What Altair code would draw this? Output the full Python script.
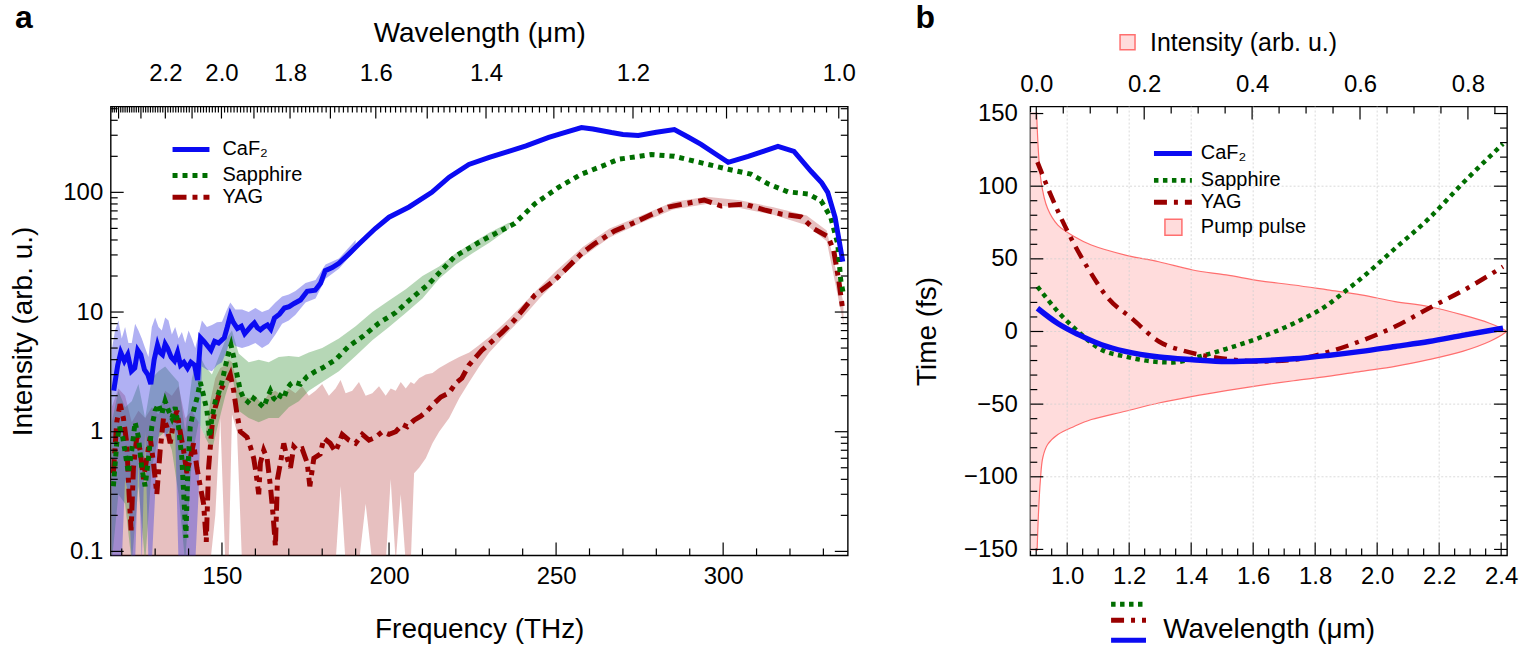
import altair as alt
import pandas as pd

FONT = "Liberation Sans"

# ---------------- (a) white-light spectra vs frequency (THz) ----------------
caf2_f = [117.6, 118.8, 119.7, 120.8, 121.8, 122.9, 123.9, 124.8, 125.7, 126.8,
          127.8, 128.7, 129.7, 130.7, 131.4, 132.2, 133.0, 133.7, 134.8, 135.8,
          136.7, 137.6, 138.6, 139.7, 140.7, 141.8, 142.7, 143.6, 144.6, 145.7,
          146.7, 147.8, 149.0, 150.7, 151.6, 152.5, 153.4, 154.6, 155.8, 156.8,
          157.6, 158.7, 159.7, 160.6, 161.5, 162.5, 163.6, 164.6, 165.7, 167.2,
          168.7, 170.1, 171.6, 173.5, 175.5, 177.9, 179.5, 180.9, 183.0, 185.0,
          188.1, 191.0, 195.8, 200.0, 206.0, 212.8, 218.0, 223.9, 230.0, 235.8,
          241.0, 247.8, 252.0, 257.6, 261.0, 266.6, 270.0, 274.6, 280.0, 285.4,
          289.5, 293.4, 297.5, 301.5, 304.5, 307.5, 312.0, 316.4, 321.2, 326.3,
          329.5, 331.3, 333.5, 335.8]
caf2_i = [2.2, 3.6, 4.6, 3.9, 4.4, 3.2, 3.4, 4.8, 4.4, 3.3,
          3.0, 2.5, 4.0, 5.3, 4.6, 4.4, 5.4, 5.0, 4.2, 3.9,
          4.6, 3.6, 3.8, 3.4, 3.8, 3.6, 2.7, 6.1, 5.7, 5.2,
          4.8, 5.7, 5.5, 6.1, 7.5, 9.4, 8.2, 7.3, 7.6, 6.6,
          7.0, 7.6, 8.1, 7.4, 7.1, 7.5, 7.8, 7.2, 8.9, 9.6,
          10.8, 11.1, 11.8, 12.6, 14.9, 15.2, 17.4, 22.2, 23.5, 25.5,
          30.8, 37.0, 49.6, 62.0, 75.5, 100, 134, 171, 196, 220,
          245, 288, 313, 348, 338, 316, 305, 299, 318, 335,
          290, 252, 211, 178, 189, 200, 220, 242, 220, 150,
          120, 100, 62, 26.4]

sapph_f = [117.5, 118.5, 119.3, 120.3, 121.3, 122.0, 123.0, 124.0, 125.0, 126.0,
           127.0, 128.0, 129.0, 130.0, 131.0, 132.0, 133.0, 134.0, 135.0, 136.0,
           137.0, 138.0, 138.7, 139.2, 139.8, 140.5, 141.5, 142.5, 143.5, 144.5,
           145.5, 146.3, 147.0, 148.0, 149.0, 150.0, 151.0, 152.0, 152.7, 153.5,
           154.5, 155.5, 156.5, 157.5, 158.5, 159.5, 160.5, 161.5, 162.5, 163.5,
           164.5, 165.5, 166.5, 167.5, 168.5, 169.5, 170.5, 171.5, 173.5, 175.5,
           178.0, 180.0, 184.0, 188.0, 192.0, 197.0, 202.0, 206.0, 212.0, 219.7,
           227.8, 237.6, 243.6, 250.7, 257.6, 263.6, 268.7, 278.5, 285.4, 295.5,
           301.5, 308.3, 313.4, 319.4, 325.4, 329.3, 332.2, 334.3, 335.2, 336.1]
sapph_i = [0.35, 0.8, 1.1, 0.9, 0.6, 0.45, 0.7, 1.2, 0.9, 0.5,
           0.35, 0.6, 1.1, 1.5, 1.7, 1.4, 1.8, 1.5, 1.3, 1.6,
           1.1, 0.6, 0.25, 0.13, 0.5, 1.1, 1.5, 1.9, 2.6, 2.0,
           1.5, 0.9, 1.3, 1.8, 2.1, 2.6, 3.5, 4.6, 5.3, 4.2,
           3.0, 2.2, 1.9, 1.8, 1.7, 1.9, 1.8, 1.7, 1.6, 1.9,
           2.2, 1.9, 1.8, 2.0, 1.9, 2.3, 2.5, 2.6, 2.5, 2.9,
           3.2, 3.4, 4.0, 5.2, 6.2, 8.1, 9.9, 12.5, 17.3, 29.2,
           39.5, 55, 80, 110, 142, 165, 189, 207, 200, 171,
           156, 142, 118, 101, 97, 85, 62, 37, 18.4, 13.6]

yag_f = [117.5, 118.5, 119.5, 120.5, 121.5, 122.2, 122.8, 123.5, 124.5, 125.5,
         126.5, 127.5, 128.5, 129.5, 130.5, 131.5, 132.5, 133.5, 134.5, 135.5,
         136.5, 137.5, 138.5, 139.5, 140.5, 141.5, 142.5, 143.5, 144.5, 145.3,
         146.0, 147.0, 148.0, 149.0, 150.2, 151.5, 152.5, 153.5, 154.5, 155.5,
         156.5, 157.5, 158.5, 159.5, 160.2, 161.0, 161.5, 162.5, 163.5, 164.5,
         165.3, 166.0, 166.6, 167.5, 168.5, 169.5, 170.5, 171.5, 172.5, 174.0,
         175.5, 176.3, 177.5, 179.4, 180.5, 182.4, 184.0, 186.0, 188.0, 190.0,
         192.0, 194.0, 196.0, 198.0, 200.0, 202.0, 204.0, 205.5, 207.5, 209.5,
         211.5, 213.7, 215.5, 217.9, 220.0, 221.8, 223.9, 227.8, 233.7, 237.6,
         243.6, 249.6, 251.6, 257.6, 261.5, 267.5, 272.5, 277.6, 283.5, 288.3,
         294.3, 299.4, 306.3, 312.3, 317.3, 323.3, 327.2, 331.4, 333.1, 334.6,
         335.8]
yag_i = [0.45, 1.2, 1.7, 1.3, 0.8, 0.3, 0.15, 0.5, 0.9, 0.7,
         0.4, 0.6, 0.9, 0.55, 0.3, 0.7, 1.3, 1.1, 0.8, 1.2,
         1.5, 1.0, 0.7, 0.45, 0.6, 0.8, 0.5, 0.35, 0.25, 0.12,
         0.5, 1.1, 1.6, 2.0, 2.4, 2.6, 3.0, 2.2, 1.4, 1.0,
         0.95, 0.9, 0.75, 0.6, 0.45, 0.3, 0.55, 0.7, 0.6, 0.35,
         0.2, 0.11, 0.4, 0.55, 0.8, 0.6, 0.5, 0.75, 0.7, 0.72,
         0.55, 0.35, 0.6, 0.65, 0.88, 0.8, 0.68, 0.95, 0.85, 0.8,
         0.95, 0.85, 0.9, 1.0, 0.95, 1.0, 1.15, 1.1, 1.25, 1.35,
         1.5, 1.75, 1.95, 2.1, 2.55, 2.8, 3.6, 4.8, 6.7, 8.6,
         13.8, 18.5, 21.0, 30.8, 37.2, 47.6, 54.5, 63.5, 75.3, 80.1,
         86.3, 76.9, 80.0, 71.3, 66.0, 62.5, 49.6, 42.6, 32.6, 18.4,
         10.4]

# shot-to-shot spread (lower / upper envelope) of each spectrum
caf2_band_f = [117, 118, 119, 120, 121, 122, 123, 124, 125, 126,
               127, 128, 129, 130, 131, 132, 133, 134, 135, 136,
               137, 138, 139, 140, 141, 142, 143, 144, 145.5, 147,
               148.5, 150, 151.5, 152.5, 154, 156, 158, 160, 162, 164,
               166, 168, 170, 172, 175, 178, 181, 185, 190]
caf2_band_lo = [0.08, 0.08, 0.08, 0.08, 0.4, 0.3, 0.08, 0.08, 0.6, 0.08,
                1.0, 0.08, 0.08, 0.3, 0.9, 1.2, 0.9, 1.0, 1.1, 1.0,
                0.08, 0.08, 0.08, 0.08, 0.08, 0.08, 0.3, 3.5, 3.3, 3.2,
                3.6, 3.8, 4.8, 6.0, 5.2, 5.0, 5.2, 5.5, 5.0, 5.4,
                6.5, 8.0, 8.5, 9.5, 12, 13, 19, 23, 33]
caf2_band_hi = [4.8, 7.0, 8.5, 6.0, 7.5, 5.5, 5.5, 8.0, 7.0, 6.0,
                5.0, 4.2, 7.5, 9.0, 7.5, 7.0, 9.0, 8.5, 6.5, 7.5,
                6.0, 6.8, 5.5, 7.0, 6.0, 5.0, 6.5, 8.5, 7.5, 7.8,
                8.2, 8.3, 10.5, 12.0, 10.5, 10.5, 10.0, 10.8, 10.0, 10.5,
                12, 13.5, 14, 15, 17.5, 18.5, 25, 28, 40]

sapph_band_f = [117, 119, 121, 123, 125, 127, 129, 131, 133, 135,
                137, 139, 141, 143, 145, 147, 149, 151, 153, 155,
                158, 161, 164, 167, 170, 173, 176, 180, 185, 190,
                195, 200, 205, 210, 215, 220, 225, 230, 236]
sapph_band_lo = [0.08, 0.3, 0.25, 0.08, 0.35, 0.08, 0.5, 0.9, 1.0, 0.7,
                 0.3, 0.08, 0.6, 1.2, 0.9, 0.7, 1.2, 2.0, 3.0, 1.5,
                 1.3, 1.2, 1.3, 1.3, 1.6, 1.8, 2.2, 2.6, 3.2, 4.3,
                 5.8, 7.5, 9.8, 13, 19, 25, 31, 38, 50]
sapph_band_hi = [1.2, 2.2, 1.6, 1.8, 2.5, 1.3, 2.8, 3.2, 3.5, 3.0,
                 2.6, 1.0, 2.8, 4.5, 3.5, 3.0, 4.2, 5.8, 7.0, 4.5,
                 3.8, 4.0, 3.8, 4.2, 4.3, 4.2, 4.6, 5.0, 6.0, 7.6,
                 10.0, 12.5, 15.5, 20, 24, 31, 38, 46, 56]

yag_band_f = [117, 119, 121, 123, 125, 127, 129, 131, 133, 135,
              137, 139, 141, 143, 145, 146.5, 148, 149.5, 151, 152,
              153, 154.5, 156, 158, 160, 162, 164, 166, 168, 170,
              172, 174, 176, 178, 180, 182, 184, 185.5, 187, 189,
              191, 193, 195, 197, 199, 200.5, 202, 203.5, 205, 206.5,
              207.5, 209, 211, 213, 215, 218, 221, 224, 227, 230,
              235, 240, 245, 250, 258, 266, 275, 285, 295, 305,
              315, 325, 331, 336]
yag_band_lo = [0.08, 0.08, 0.08, 0.08, 0.08, 0.08, 0.08, 0.08, 0.08, 0.08,
               0.08, 0.08, 0.08, 0.08, 0.08, 0.08, 0.2, 1.3, 0.08, 0.08,
               1.4, 1.0, 0.08, 0.08, 0.08, 0.08, 0.08, 0.08, 0.08, 0.08,
               0.08, 0.08, 0.08, 0.08, 0.08, 0.08, 0.08, 0.35, 0.08, 0.08,
               0.08, 0.25, 0.08, 0.08, 0.08, 0.4, 0.08, 0.3, 0.08, 0.08,
               0.45, 0.5, 0.6, 0.8, 1.0, 1.3, 1.9, 2.6, 3.5, 4.6,
               6.5, 9.0, 13, 18, 29, 42, 55, 72, 80, 74,
               65, 53, 39, 8]
yag_band_hi = [1.6, 2.3, 2.0, 1.2, 1.5, 1.3, 1.6, 1.4, 2.2, 2.0,
               2.4, 1.3, 1.5, 1.2, 0.9, 1.8, 2.8, 3.4, 3.6, 4.0,
               3.8, 2.6, 2.0, 1.9, 2.0, 1.7, 2.1, 2.2, 2.0, 2.3,
               2.1, 2.4, 2.0, 2.2, 2.5, 2.0, 2.3, 2.7, 2.1, 2.2,
               2.6, 2.0, 2.1, 2.4, 2.0, 2.3, 2.2, 2.6, 2.3, 2.6,
               2.5, 2.8, 3.0, 3.1, 3.4, 3.8, 4.2, 4.6, 5.3, 6.2,
               8.3, 11.5, 16, 22, 35, 50, 63, 83, 92, 86,
               75, 64, 48, 12]

# ---------------- (b) group delay (fs) vs wavelength (um) ----------------
wl_caf2 = [0.904, 0.970, 1.035, 1.111, 1.187, 1.296, 1.405, 1.514, 1.623, 1.732,
           1.840, 1.949, 2.058, 2.167, 2.275, 2.406]
t_caf2 = [16.0, 5.5, -2.0, -9.1, -13.7, -17.6, -19.4, -20.6, -20.1, -18.8,
          -16.5, -13.7, -10.3, -6.9, -2.7, 2.3]
wl_sapph = [0.904, 0.970, 1.035, 1.111, 1.187, 1.274, 1.340, 1.427, 1.514, 1.623,
            1.732, 1.840, 1.895, 1.949, 2.058, 2.167, 2.275, 2.406]
t_sapph = [30.9, 13.7, 0.0, -12.6, -17.2, -20.6, -21.3, -17.2, -11.9, -4.1,
           5.7, 18.3, 27.4, 36.6, 57.2, 77.8, 101.8, 129.2]
wl_yag = [0.904, 0.948, 1.002, 1.067, 1.132, 1.208, 1.296, 1.383, 1.459, 1.535,
          1.623, 1.732, 1.840, 1.949, 2.058, 2.167, 2.275, 2.406]
t_yag = [116.6, 93.5, 68.6, 43.5, 22.9, 9.1, -6.9, -13.7, -17.2, -19.4,
         -20.6, -19.4, -14.2, -6.4, 3.4, 16.0, 27.9, 44.6]

# pump pulse intensity profile (arb. u.) vs time (fs)
pump_t = [-151, -125.8, -102.9, -86.9, -77.8, -70.9, -65.2, -60.6, -54.9, -49.2,
          -44.6, -40.7, -37.1, -33.9, -30.9, -27.4, -24.0, -19.4, -13.7, -6.9,
          -1.1, 0.0, 1.1, 5.7, 11.4, 17.2, 20.6, 25.2, 28.6, 32.0,
          34.8, 38.9, 42.3, 48.0, 52.6, 59.5, 65.2, 73.2, 84.6, 103.0, 151]
pump_i = [0.0015, 0.004, 0.0075, 0.012, 0.021, 0.040, 0.071, 0.102, 0.165, 0.227,
          0.29, 0.352, 0.415, 0.477, 0.54, 0.602, 0.665, 0.727, 0.79, 0.84,
          0.868, 0.871, 0.868, 0.84, 0.79, 0.727, 0.665, 0.602, 0.54, 0.477,
          0.415, 0.352, 0.29, 0.227, 0.165, 0.102, 0.071, 0.040, 0.021, 0.009, 0.0006]

# ---------------- tick positions ----------------
freq_major = [150, 200, 250, 300]
freq_minor = [120, 130, 140, 160, 170, 180, 190, 210, 220, 230, 240,
              260, 270, 280, 290, 310, 320, 330]
int_major = [0.1, 1, 10, 100]
int_minor = [0.2, 0.3, 0.4, 0.5, 0.6, 0.7, 0.8, 0.9, 2, 3, 4, 5, 6, 7, 8, 9,
             20, 30, 40, 50, 60, 70, 80, 90, 200, 300, 400, 500]
wl_top_labels = [2.2, 2.0, 1.8, 1.6, 1.4, 1.2, 1.0]
wl_top_major = [round(1.0 + 0.1 * k, 1) for k in range(15)]
wl_top_minor = [k / 100 for k in range(101, 244) if k % 10]
time_major = [-150, -100, -50, 0, 50, 100, 150]
time_minor = [k for k in range(-150, 151, 10) if k % 50]
wlb_major = [1.0, 1.2, 1.4, 1.6, 1.8, 2.0, 2.2, 2.4]
wlb_minor = [k / 100 for k in range(90, 242, 5) if k % 20]
ib_major = [0.0, 0.2, 0.4, 0.6, 0.8]
ib_minor = [k / 100 for k in range(0, 88, 5) if k % 20]

BLUE, GREEN, RED = "#0b0bf2", "#006e00", "#990000"
PINK_FILL, PINK_LINE = "#ffdcdc", "#ff6f6f"

W_A, H_A = 739, 450
W_B, H_B = 478, 450
FREQ_DOM = [116.7, 337.3]
INV_DOM = [0.4103, 1.0073]      # top axis of (a): inverse wavelength, 1/um
INT_DOM = [0.0926, 521]
WL_DOM = [0.881, 2.419]
IB_DOM = [-0.0111, 0.8725]      # top axis of (b): pump intensity
T_DOM = [-154.1, 154.8]

# the secondary (top) axes share the bottom scale through a linear map
K_A = (FREQ_DOM[1] - FREQ_DOM[0]) / (INV_DOM[1] - INV_DOM[0])
K_B = (WL_DOM[1] - WL_DOM[0]) / (IB_DOM[1] - IB_DOM[0])


def wl_to_freq_axis(wl):
    return FREQ_DOM[0] + (1.0 / wl - INV_DOM[0]) * K_A


def intensity_to_wl_axis(v):
    return WL_DOM[0] + (v - IB_DOM[0]) * K_B


LABEL_WL_TOP = f"format(1 / ({INV_DOM[0]} + (datum.value - {FREQ_DOM[0]}) / {K_A}) + 1e-9, '.1f')"
LABEL_IB_TOP = f"format({IB_DOM[0]} + (datum.value - {WL_DOM[0]}) / {K_B} + 1e-9, '.1f')"

LABEL_SIZE, TITLE_SIZE, KEY_SIZE = 24, 28, 20


def col(values, name="v"):
    return pd.DataFrame({name: values})


def xq(field, domain, axis=None):
    return alt.X(f"{field}:Q", scale=alt.Scale(domain=domain, nice=False, zero=False), axis=axis)


AX_INT = alt.Axis(values=int_major, format="~g", title="Intensity (arb. u.)",
                  ticks=False, domain=False, grid=False, labelPadding=8, titlePadding=25)
AX_TIME = alt.Axis(values=time_major, labelExpr="replace(format(datum.value, 'd'), '-', '\u2212')",
                   title="Time (fs)", ticks=False, domain=False, grid=False,
                   labelPadding=13, titlePadding=22)


def ya(field):
    return alt.Y(f"{field}:Q", scale=alt.Scale(type="log", domain=INT_DOM, nice=False), axis=AX_INT)


def yb(field):
    return alt.Y(f"{field}:Q", scale=alt.Scale(domain=T_DOM, nice=False, zero=False), axis=AX_TIME)


def side_ticks(vals, yenc, length, width):
    left = alt.Chart(col(vals)).mark_rule(color="black", strokeWidth=1.2).encode(
        y=yenc, x=alt.value(0), x2=alt.value(length))
    right = alt.Chart(col(vals)).mark_rule(color="black", strokeWidth=1.2).encode(
        y=yenc, x=alt.value(width), x2=alt.value(width - length))
    return [left, right]


def bottom_ticks(vals, xenc, length, height):
    return alt.Chart(col(vals)).mark_rule(color="black", strokeWidth=1.2).encode(
        x=xenc, y=alt.value(height), y2=alt.value(height - length))


def top_ticks(vals, xenc, length):
    return alt.Chart(col(vals)).mark_rule(color="black", strokeWidth=1.2).encode(
        x=xenc, y=alt.value(0), y2=alt.value(length))


def key_line(color, width, x0, x1, y, dash=None):
    style = dict(color=color, strokeWidth=width, strokeCap="butt")
    if dash:
        style["strokeDash"] = dash
    return alt.Chart(col([0])).mark_rule(**style).encode(
        x=alt.value(x0), x2=alt.value(x1), y=alt.value(y))


def legend_entry(text, color, width, x0, x1, xt, y, dash=None):
    line = key_line(color, width, x0, x1, y, dash)
    label_mark = alt.Chart(col([text], "s")).mark_text(
        align="left", baseline="middle", fontSize=KEY_SIZE).encode(
        text="s:N", x=alt.value(xt), y=alt.value(y))
    return [line, label_mark]


def label(txt, x, y, size, weight="normal", align="left"):
    return alt.Chart(col([txt], "s")).mark_text(
        align=align, baseline="alphabetic", fontSize=size, fontWeight=weight).encode(
        text="s:N", x=alt.value(x), y=alt.value(y))


# ---------------- panel (a) ----------------
DASH_SAPPH_A = [5, 5]
DASH_YAG_A = [14, 6, 5, 6]


def band(f, lo, hi, color, op):
    d = pd.DataFrame({"f": f, "lo": lo, "hi": hi})
    return alt.Chart(d).mark_area(color=color, opacity=op, clip=True).encode(
        x=xq("f", FREQ_DOM), y=ya("lo"), y2="hi:Q")


def spectrum(f, i, color, dash=None):
    d = pd.DataFrame({"f": f, "i": i})
    style = dict(color=color, strokeWidth=5, clip=True, strokeCap="butt")
    if dash:
        style["strokeDash"] = dash
    return alt.Chart(d).mark_line(**style).encode(x=xq("f", FREQ_DOM), y=ya("i"))


AX_FREQ = alt.Axis(values=freq_major, format="d", title="Frequency (THz)", ticks=False,
                   domain=False, grid=False, labelPadding=9, titlePadding=27)
AX_WL_TOP = alt.Axis(orient="top", values=[wl_to_freq_axis(w) for w in wl_top_labels],
                     labelExpr=LABEL_WL_TOP, title="Wavelength (\u03bcm)", ticks=False,
                     domain=False, grid=False, labelPadding=21, titlePadding=14)

layers_a = [
    band(yag_band_f, yag_band_lo, yag_band_hi, "#b03030", 0.3),
    band(sapph_band_f, sapph_band_lo, sapph_band_hi, "#2e8b2e", 0.35),
    band(caf2_band_f, caf2_band_lo, caf2_band_hi, "#3a3ae0", 0.4),
    spectrum(yag_f, yag_i, RED, DASH_YAG_A),
    spectrum(sapph_f, sapph_i, GREEN, DASH_SAPPH_A),
    spectrum(caf2_f, caf2_i, BLUE),
    bottom_ticks(freq_major, xq("v", FREQ_DOM, AX_FREQ), 13, H_A),
    bottom_ticks(freq_minor, xq("v", FREQ_DOM), 7, H_A),
    top_ticks([wl_to_freq_axis(w) for w in wl_top_major], xq("v", FREQ_DOM, AX_WL_TOP), 12),
    top_ticks([wl_to_freq_axis(w) for w in wl_top_minor], xq("v", FREQ_DOM), 6),
]
layers_a += side_ticks(int_major, ya("v"), 13, W_A)
layers_a += side_ticks(int_minor, ya("v"), 7, W_A)
layers_a += legend_entry("CaF\u2082", BLUE, 5, 62, 99, 112, 43)
layers_a += legend_entry("Sapphire", GREEN, 5, 62, 99, 112, 69, DASH_SAPPH_A)
layers_a += legend_entry("YAG", RED, 5, 62, 99, 112, 91, DASH_YAG_A)
layers_a.append(label("a", -96, -79, 32, "bold"))

panel_a = alt.layer(*layers_a).properties(width=W_A, height=H_A).resolve_axis(x="independent")

# ---------------- panel (b) ----------------
DASH_SAPPH_B = [4.5, 4.5]
DASH_YAG_B = [13, 7, 4, 7]

AX_WLB = alt.Axis(values=wlb_major, format=".1f", title="Wavelength (\u03bcm)", ticks=False,
                  domain=False, grid=False, labelPadding=9, titlePadding=27)
AX_IB = alt.Axis(orient="top", values=[intensity_to_wl_axis(v) for v in ib_major],
                 labelExpr=LABEL_IB_TOP, title=None, ticks=False, domain=False, grid=False,
                 labelPadding=10)

pump = pd.DataFrame({"t": pump_t, "i": pump_i})
pump["x"] = [intensity_to_wl_axis(v) for v in pump_i]
pump["x0"] = WL_DOM[0]
pump_area = alt.Chart(pump).mark_area(orient="horizontal", color=PINK_FILL, clip=True,
                                      interpolate="monotone").encode(
    y=yb("t"), x=xq("x", WL_DOM), x2="x0:Q")
pump_edge = alt.Chart(pump).mark_line(color=PINK_LINE, strokeWidth=1.2, clip=True,
                                      interpolate="catmull-rom").encode(
    y=yb("t"), x=xq("x", WL_DOM), order="t:Q")


def delay(wl, t, color, width, dash=None):
    d = pd.DataFrame({"wl": wl, "t": t})
    style = dict(color=color, strokeWidth=width, interpolate="monotone", strokeCap="butt")
    if dash:
        style["strokeDash"] = dash
    return alt.Chart(d).mark_line(**style).encode(x=xq("wl", WL_DOM), y=yb("t"))


grid_v = alt.Chart(col(wlb_major[:-1])).mark_rule(color="#d0d0d0", strokeWidth=0.8, strokeDash=[2, 2]).encode(
    x=xq("v", WL_DOM), y=alt.value(0), y2=alt.value(H_B))
grid_h = alt.Chart(col(time_major[1:-1])).mark_rule(color="#d0d0d0", strokeWidth=0.8, strokeDash=[2, 2]).encode(
    y=yb("v"), x=alt.value(0), x2=alt.value(W_B))

layers_b = [
    pump_area, pump_edge, grid_v, grid_h,
    delay(wl_sapph, t_sapph, GREEN, 4.5, DASH_SAPPH_B),
    delay(wl_yag, t_yag, RED, 4.5, DASH_YAG_B),
    delay(wl_caf2, t_caf2, BLUE, 5.5),
    bottom_ticks(wlb_major, xq("v", WL_DOM, AX_WLB), 13, H_B),
    bottom_ticks(wlb_minor, xq("v", WL_DOM), 7, H_B),
    top_ticks([intensity_to_wl_axis(v) for v in ib_major], xq("v", WL_DOM, AX_IB), 13),
    top_ticks([intensity_to_wl_axis(v) for v in ib_minor], xq("v", WL_DOM), 7),
]
layers_b += side_ticks(time_major, yb("v"), 13, W_B)
layers_b += side_ticks(time_minor, yb("v"), 7, W_B)
layers_b += legend_entry("CaF\u2082", BLUE, 5, 124, 162, 171, 47)
layers_b += legend_entry("Sapphire", GREEN, 5, 124, 162, 171, 74, DASH_SAPPH_B)
layers_b += legend_entry("YAG", RED, 5, 124, 162, 171, 96, DASH_YAG_B)
pump_key = alt.Chart(col([0])).mark_rect(fill=PINK_FILL, stroke=PINK_LINE, strokeWidth=1.5).encode(
    x=alt.value(135), x2=alt.value(152), y=alt.value(113), y2=alt.value(129))
pump_text = alt.Chart(col(["Pump pulse"], "s")).mark_text(
    align="left", baseline="middle", fontSize=KEY_SIZE).encode(
    text="s:N", x=alt.value(171), y=alt.value(121))
layers_b += [pump_key, pump_text]
# key swatch beside the top-axis title, small line keys beside the bottom title
top_key = alt.Chart(col([0])).mark_rect(fill=PINK_FILL, stroke=PINK_LINE, strokeWidth=1.5).encode(
    x=alt.value(90), x2=alt.value(105), y=alt.value(-72), y2=alt.value(-57))
layers_b.append(top_key)
layers_b.append(label("Intensity (arb. u.)", 120, -56, 25))
layers_b.append(key_line(GREEN, 5, 81, 116, 499, DASH_SAPPH_B))
layers_b.append(key_line(RED, 5, 81, 116, 515, DASH_YAG_B))
layers_b.append(key_line(BLUE, 5, 81, 116, 535))
layers_b.append(label("b", -115, -79, 32, "bold"))

panel_b = alt.layer(*layers_b).properties(width=W_B, height=H_B).resolve_axis(x="independent")

chart = (
    alt.hconcat(panel_a, panel_b, spacing=183, bounds="flush")
    .properties(padding={"left": 9, "top": 0, "right": 5, "bottom": 0})
    .configure_view(stroke="black", strokeWidth=1.4)
    .configure_axis(labelFont=FONT, titleFont=FONT, labelFontSize=LABEL_SIZE,
                    titleFontSize=TITLE_SIZE, titleFontWeight="normal",
                    labelColor="black", titleColor="black")
    .configure_text(font=FONT, color="black")
)

chart.save("out.html", embed_options={"renderer": "svg", "actions": False})
